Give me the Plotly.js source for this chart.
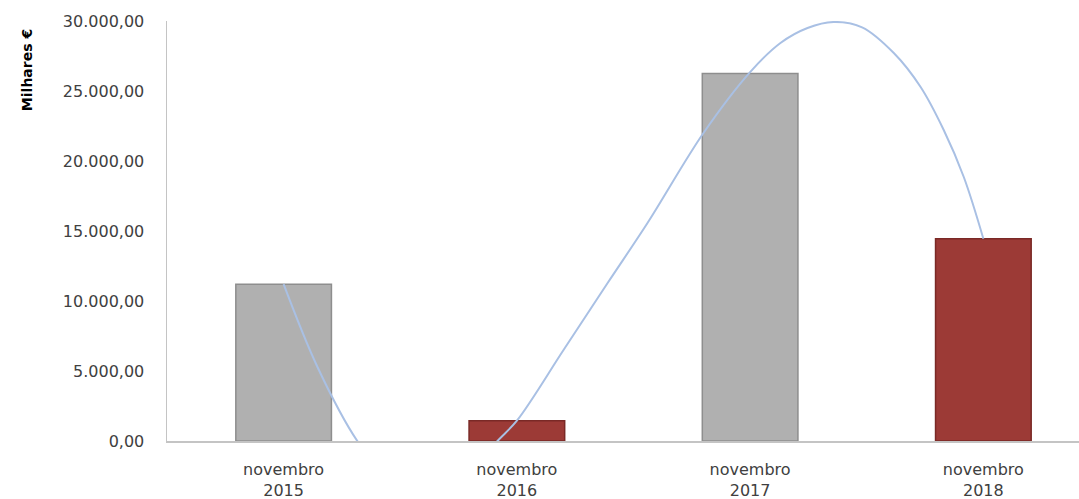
<!DOCTYPE html>
<html>
<head>
<meta charset="utf-8">
<script src="https://cdn.plot.ly/plotly-3.0.1.min.js"></script>
<style>
  html, body { margin: 0; padding: 0; background: #ffffff; }
  #chart { width: 1079px; height: 499px; }
</style>
</head>
<body>
<div id="chart"></div>
<script>
// Categories and bar values (Milhares €)
var categories = ["novembro<br>2015", "novembro<br>2016", "novembro<br>2017", "novembro<br>2018"];
var categoryPos = [0, 1, 2, 3];
var values = [11200, 1450, 26250, 14450];
var barColors = ["#b0b0b0", "#9c3a36", "#b0b0b0", "#9c3a36"];
var barEdge = ["#8e8e8e", "#7a2926", "#8e8e8e", "#7a2926"];

// Smoothed curve (position in category units, value)
var curveX = [0, 0.145, 0.316, 0.40, 0.62, 0.84, 0.917, 1, 1.2, 1.389, 1.56, 1.80, 2, 2.13, 2.246, 2.358, 2.48, 2.616, 2.731, 2.83, 2.916, 3];
var curveY = [11200, 5286, 0, -1660, -3450, -1540, 0, 1450, 6500, 11286, 15571, 22000, 26350, 28430, 29500, 29929, 29550, 27714, 25286, 22214, 18857, 14450];

// Y-axis ticks
var yTickVals = [0, 5000, 10000, 15000, 20000, 25000, 30000];
var yTickText = ["0,00", "5.000,00", "10.000,00", "15.000,00", "20.000,00", "25.000,00", "30.000,00"];

var bars = {
  type: "bar",
  x: categoryPos,
  y: values,
  width: 0.41,
  marker: { color: barColors, line: { color: barEdge, width: 1.5 } },
  hoverinfo: "y",
  showlegend: false
};

var curve = {
  type: "scatter",
  mode: "lines",
  x: curveX,
  y: curveY,
  line: { color: "#a9c0e4", width: 2, shape: "spline", smoothing: 1 },
  hoverinfo: "skip",
  showlegend: false
};

var layout = {
  width: 1079,
  height: 499,
  margin: { l: 167, r: 0, t: 21, b: 58, pad: 0 },
  paper_bgcolor: "#ffffff",
  plot_bgcolor: "#ffffff",
  font: { family: "DejaVu Sans, sans-serif", color: "#404040", size: 16 },
  xaxis: {
    range: [-0.5, 3.41],
    tickmode: "array",
    tickvals: categoryPos,
    ticktext: categories,
    ticks: "outside",
    ticklen: 13,
    tickcolor: "rgba(0,0,0,0)",
    showgrid: false,
    zeroline: false,
    showline: true,
    linecolor: "#c4c4c4",
    linewidth: 1.5,
    tickfont: { size: 16, color: "#404040" },
    fixedrange: true
  },
  yaxis: {
    range: [0, 30000],
    tickmode: "array",
    tickvals: yTickVals,
    ticktext: yTickText,
    ticks: "outside",
    ticklen: 18,
    tickcolor: "rgba(0,0,0,0)",
    showgrid: false,
    zeroline: false,
    showline: true,
    linecolor: "#c4c4c4",
    linewidth: 1.5,
    tickfont: { size: 16, color: "#404040" },
    fixedrange: true
  },
  annotations: [{
    text: "<b>Milhares €</b>",
    xref: "paper",
    yref: "paper",
    x: -0.1535,
    y: 0.883,
    xanchor: "center",
    yanchor: "middle",
    textangle: -90,
    showarrow: false,
    font: { family: "DejaVu Sans, sans-serif", size: 14, color: "#000000" }
  }]
};

Plotly.newPlot("chart", [bars, curve], layout, { displayModeBar: false, staticPlot: true });
</script>
</body>
</html>
